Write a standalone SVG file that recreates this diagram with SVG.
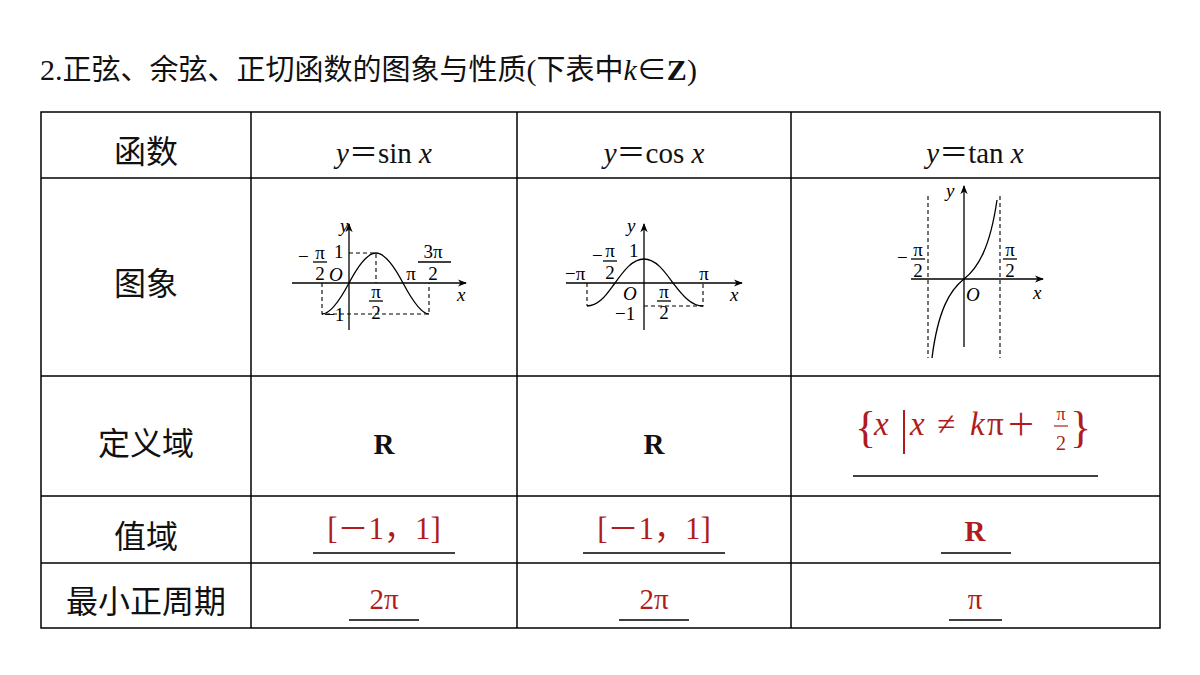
<svg xmlns="http://www.w3.org/2000/svg" width="1200" height="675" viewBox="0 0 1200 675">
<defs>
<style>
.cn{font-family:"Noto Sans CJK SC","Noto Sans",sans-serif;font-size:32px;fill:#111}
.m{font-family:"Liberation Serif","Noto Sans CJK SC",serif;fill:#111}
.i{font-style:italic}
.red{fill:#b01c1c}
.g{stroke:#000;stroke-width:1.3;fill:none}
.d{stroke:#000;stroke-width:1.1;stroke-dasharray:4 3;fill:none}
.s{font-family:"Liberation Serif",serif;font-size:19px;fill:#000}
.tl{stroke:#000;stroke-width:1.5}
.ul{stroke:#000;stroke-width:1.5}
</style>
<marker id="ar" viewBox="0 0 10 10" refX="9" refY="5" markerWidth="7" markerHeight="7" orient="auto"><path d="M0,1 L10,5 L0,9 L3,5Z" fill="#000"/></marker>
</defs>
<rect width="1200" height="675" fill="#fff"/>
<text x="40" y="80" class="cn" style="font-size:29px"><tspan class="m" style="font-size:30px">2.</tspan>正弦、余弦、正切函数的图象与性质<tspan class="m" style="font-size:30px">(</tspan>下表中<tspan class="m i" style="font-size:30px">k</tspan><tspan class="m" style="font-size:30px">∈</tspan><tspan class="m" style="font-size:30px;font-weight:bold">Z</tspan><tspan class="m" style="font-size:30px">)</tspan></text>
<g id="table">
<rect x="41" y="112" width="1119" height="516" fill="none" class="tl"/>
<line x1="251" y1="112" x2="251" y2="628" class="tl"/>
<line x1="517" y1="112" x2="517" y2="628" class="tl"/>
<line x1="791" y1="112" x2="791" y2="628" class="tl"/>
<line x1="41" y1="178" x2="1160" y2="178" class="tl"/>
<line x1="41" y1="376" x2="1160" y2="376" class="tl"/>
<line x1="41" y1="496" x2="1160" y2="496" class="tl"/>
<line x1="41" y1="563" x2="1160" y2="563" class="tl"/>
</g>
<g id="headers">
<text x="146" y="163" class="cn" text-anchor="middle">函数</text>
<text x="146" y="295" class="cn" text-anchor="middle">图象</text>
<text x="146" y="455" class="cn" text-anchor="middle">定义域</text>
<text x="146" y="548" class="cn" text-anchor="middle">值域</text>
<text x="146" y="613" class="cn" text-anchor="middle">最小正周期</text>
<text x="384" y="163" class="m" font-size="29" text-anchor="middle"><tspan class="i">y</tspan>＝sin <tspan class="i">x</tspan></text>
<text x="654" y="163" class="m" font-size="29" text-anchor="middle"><tspan class="i">y</tspan>＝cos <tspan class="i">x</tspan></text>
<text x="975" y="163" class="m" font-size="29" text-anchor="middle"><tspan class="i">y</tspan>＝tan <tspan class="i">x</tspan></text>
</g>
<g id="sin-graph">
<line x1="292" y1="283" x2="466" y2="283" class="g" marker-end="url(#ar)"/>
<line x1="349" y1="330" x2="349" y2="224" class="g" marker-end="url(#ar)"/>
<path d="M322,314 C330,314 340,300 349,283 C358,266 367,253 376,253 C385,253 394,266 403,283 C412,300 421,314 429,314" class="g"/>
<path d="M349,253 H376 V283 M322,283 V314 H429 V283" class="d"/>
<text x="340" y="232" class="s i">y</text>
<text x="457" y="301" class="s i">x</text>
<text x="329" y="281" class="s i">O</text>
<text x="334" y="258" class="s">1</text>
<text x="324" y="321" class="s">−1</text>
<text x="298" y="263" class="s">−</text>
<text x="320" y="259" class="s" text-anchor="middle">π</text><line x1="313" y1="262" x2="327" y2="262" class="g" stroke-width="1"/><text x="320" y="280" class="s" text-anchor="middle">2</text>
<text x="376" y="298" class="s" text-anchor="middle">π</text><line x1="369" y1="301" x2="383" y2="301" class="g" stroke-width="1"/><text x="376" y="319" class="s" text-anchor="middle">2</text>
<text x="411" y="280" class="s" text-anchor="middle">π</text>
<text x="433" y="258" class="s" text-anchor="middle">3π</text><line x1="418" y1="262" x2="451" y2="262" class="g" stroke-width="1"/><text x="433" y="280" class="s" text-anchor="middle">2</text>
</g>
<g id="cos-graph">
<line x1="566" y1="283" x2="742" y2="283" class="g" marker-end="url(#ar)"/>
<line x1="644" y1="330" x2="644" y2="224" class="g" marker-end="url(#ar)"/>
<path d="M587,306 C600,306 608,292 615,283 C623,272 632,259 644,259 C656,259 665,272 673,283 C680,292 690,306 703,306" class="g"/>
<path d="M587,283 V306 M644,306 H703 V283" class="d"/>
<text x="627" y="232" class="s i">y</text>
<text x="730" y="301" class="s i">x</text>
<text x="623" y="300" class="s i">O</text>
<text x="629" y="257" class="s">1</text>
<text x="615" y="320" class="s">−1</text>
<text x="565" y="280" class="s">−π</text>
<text x="592" y="262" class="s">−</text>
<text x="610" y="257" class="s" text-anchor="middle">π</text><line x1="603" y1="261" x2="617" y2="261" class="g" stroke-width="1"/><text x="610" y="279" class="s" text-anchor="middle">2</text>
<text x="664" y="298" class="s" text-anchor="middle">π</text><line x1="657" y1="301" x2="671" y2="301" class="g" stroke-width="1"/><text x="664" y="319" class="s" text-anchor="middle">2</text>
<text x="704" y="280" class="s" text-anchor="middle">π</text>
</g>
<g id="tan-graph">
<line x1="911" y1="279" x2="1043" y2="279" class="g" marker-end="url(#ar)"/>
<line x1="964" y1="347" x2="964" y2="186" class="g" marker-end="url(#ar)"/>
<path d="M928,196 V358 M1000,196 V358" class="d"/>
<path d="M932,358 C938,310 950,290 964,279 C978,268 990,248 997,200" class="g"/>
<text x="946" y="197" class="s i">y</text>
<text x="1033" y="299" class="s i">x</text>
<text x="966" y="301" class="s i">O</text>
<text x="897" y="264" class="s">−</text>
<text x="918" y="256" class="s" text-anchor="middle">π</text><line x1="911" y1="259" x2="925" y2="259" class="g" stroke-width="1"/><text x="918" y="277" class="s" text-anchor="middle">2</text>
<text x="1010" y="256" class="s" text-anchor="middle">π</text><line x1="1003" y1="259" x2="1017" y2="259" class="g" stroke-width="1"/><text x="1010" y="277" class="s" text-anchor="middle">2</text>
</g>
<g id="answers">
<text x="384" y="454" class="m" font-size="29" font-weight="bold" text-anchor="middle">R</text>
<text x="654" y="454" class="m" font-size="29" font-weight="bold" text-anchor="middle">R</text>
<text x="855" y="442" class="m red" font-size="44">{</text>
<text x="874" y="435" class="m red i" font-size="33">x</text>
<line x1="904" y1="410" x2="904" y2="454" stroke="#b01c1c" stroke-width="2"/>
<text x="910" y="435" class="m red i" font-size="33">x</text>
<text x="937" y="435" class="m red" font-size="33">≠</text>
<text x="970" y="435" class="m red i" font-size="33">k</text>
<text x="987" y="435" class="m red" font-size="33">π</text>
<text x="1006" y="435" class="m red" font-size="30">＋</text>
<text x="1061" y="420" class="m red" font-size="18" text-anchor="middle">π</text>
<line x1="1054" y1="426" x2="1068" y2="426" stroke="#b01c1c" stroke-width="1.2"/>
<text x="1061" y="450" class="m red" font-size="20" text-anchor="middle">2</text>
<text x="1070" y="442" class="m red" font-size="44">}</text>
<line x1="853" y1="476" x2="1098" y2="476" class="ul"/>
<text x="384" y="539" class="m red" font-size="31" text-anchor="middle">[－1，1]</text>
<line x1="313" y1="553" x2="455" y2="553" class="ul"/>
<text x="654" y="539" class="m red" font-size="31" text-anchor="middle">[－1，1]</text>
<line x1="583" y1="553" x2="725" y2="553" class="ul"/>
<text x="975" y="541" class="m red" font-size="29" font-weight="bold" text-anchor="middle">R</text>
<line x1="941" y1="553" x2="1011" y2="553" class="ul"/>
<text x="384" y="609" class="m red" font-size="29" text-anchor="middle">2π</text>
<line x1="349" y1="620" x2="419" y2="620" class="ul"/>
<text x="654" y="609" class="m red" font-size="29" text-anchor="middle">2π</text>
<line x1="619" y1="620" x2="689" y2="620" class="ul"/>
<text x="975" y="609" class="m red" font-size="29" text-anchor="middle">π</text>
<line x1="949" y1="620" x2="1002" y2="620" class="ul"/>
</g>
</svg>
